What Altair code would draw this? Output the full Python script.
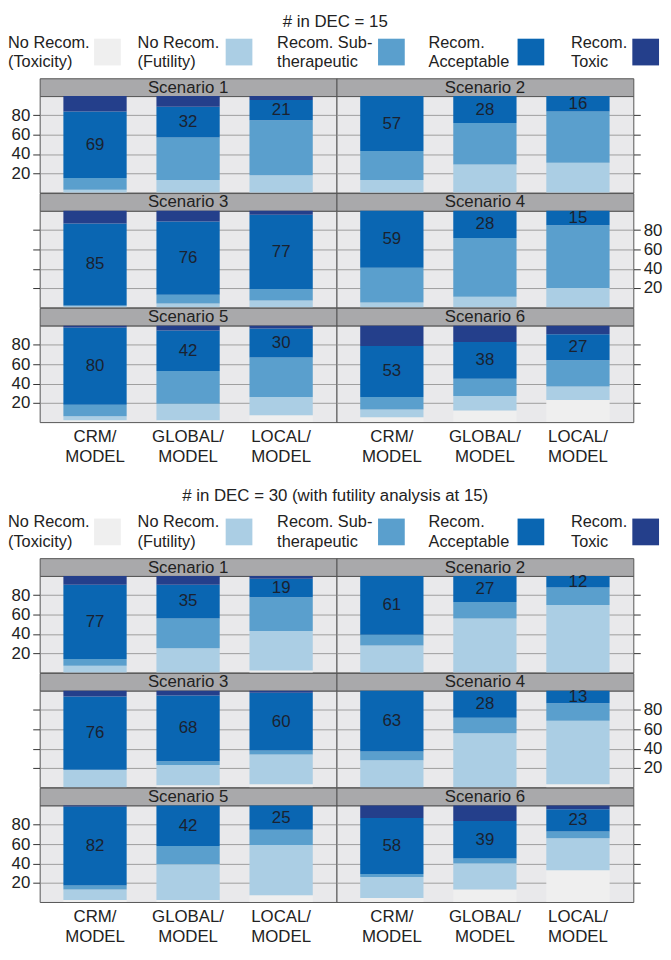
import altair as alt
import pandas as pd

FONT = "Liberation Sans"
TXT = "#222222"

# ---------------- data ----------------
methods = ["CRM/MODEL", "GLOBAL/MODEL", "LOCAL/MODEL"]
categories = ["No Recom. (Toxicity)", "No Recom. (Futility)", "Recom. Sub-therapeutic",
              "Recom. Acceptable", "Recom. Toxic"]
legend_line1 = ["No Recom.", "No Recom.", "Recom. Sub-", "Recom.", "Recom."]
legend_line2 = ["(Toxicity)", "(Futility)", "therapeutic", "Acceptable", "Toxic"]
scenarios = ["Scenario 1", "Scenario 2", "Scenario 3", "Scenario 4", "Scenario 5", "Scenario 6"]
section_titles = ["# in DEC = 15", "# in DEC = 30 (with futility analysis at 15)"]

# per scenario: one row per method, values in category order (% of trials)
dec15_s1 = [[0, 3, 12, 69, 16], [0, 13, 44, 32, 11], [0, 18, 57, 21, 4]]
dec15_s2 = [[0, 13, 30, 57, 0], [0, 29, 43, 28, 0], [0, 31, 53, 16, 0]]
dec15_s3 = [[0, 1, 1, 85, 13], [0, 4, 9, 76, 11], [0, 7, 12, 77, 4]]
dec15_s4 = [[0, 5, 36, 59, 0], [0, 11, 61, 28, 0], [0, 20, 65, 15, 0]]
dec15_s5 = [[2, 4, 12, 80, 2], [2, 17, 34, 42, 5], [7, 19, 41, 30, 3]]
dec15_s6 = [[5, 8, 13, 53, 21], [12, 15, 18, 38, 17], [23, 14, 27, 27, 9]]

dec30_s1 = [[0, 7, 7, 77, 9], [0, 25, 31, 35, 9], [2, 41, 35, 19, 3]]
dec30_s2 = [[0, 28, 11, 61, 0], [0, 56, 17, 27, 0], [0, 70, 18, 12, 0]]
dec30_s3 = [[0, 18, 0, 76, 6], [2, 21, 4, 68, 5], [3, 31, 4, 60, 2]]
dec30_s4 = [[0, 28, 9, 63, 0], [0, 56, 16, 28, 0], [3, 66, 18, 13, 0]]
dec30_s5 = [[2, 11, 4, 82, 1], [2, 37, 19, 42, 0], [7, 52, 16, 25, 0]]
dec30_s6 = [[4, 22, 3, 58, 13], [13, 27, 5, 39, 16], [33, 33, 7, 23, 4]]

sections = [
    [dec15_s1, dec15_s2, dec15_s3, dec15_s4, dec15_s5, dec15_s6],
    [dec30_s1, dec30_s2, dec30_s3, dec30_s4, dec30_s5, dec30_s6],
]

# ---------------- style ----------------
colors = ["#efefef", "#abcee4", "#5a9fcd", "#0a66b2", "#243f8b"]
PANEL_BG = "#e9e9eb"
STRIP_BG = "#a9a9ab"
BORDER = "#555555"
W, H, SH = 300, 97.5, 18
title_offsets = [3, 9]

# legend layout (width of each item, text x, square x)
legend_w = [99, 141, 153, 144, 92]
legend_tx = [-32, 0, 0, 0, 0]
legend_sx = [55, 89, 102, 90, 62]
SQ = 27


def frame(values):
    rows = []
    for m, vals in zip(methods, values):
        for k, (c, v) in enumerate(zip(categories, vals)):
            rows.append({"method": m, "category": c, "k": k, "value": v})
    return pd.DataFrame(rows)


def legend_item(i):
    d = pd.DataFrame({"l1": [legend_line1[i]], "l2": [legend_line2[i]]})
    base = alt.Chart(d)
    sq = base.mark_rect(color=colors[i]).encode(
        x=alt.value(legend_sx[i]), x2=alt.value(legend_sx[i] + SQ),
        y=alt.value(5), y2=alt.value(5 + SQ))
    t1 = base.mark_text(align="left", baseline="middle", font=FONT, fontSize=16.5, color=TXT).encode(
        x=alt.value(legend_tx[i]), y=alt.value(9), text="l1:N")
    t2 = base.mark_text(align="left", baseline="middle", font=FONT, fontSize=16.5, color=TXT).encode(
        x=alt.value(legend_tx[i]), y=alt.value(29), text="l2:N")
    return alt.layer(sq, t1, t2).properties(width=legend_w[i], height=36)


def strip_cell(name):
    d = pd.DataFrame({"s": [name]})
    return alt.Chart(d).mark_text(font=FONT, fontSize=17, color=TXT, baseline="middle").encode(
        x=alt.value(W / 2), y=alt.value(SH / 2 + 0.5), text="s:N"
    ).properties(width=W, height=SH,
                 view=alt.ViewBackground(fill=STRIP_BG, stroke=BORDER, strokeWidth=1))


def plot_cell(values, col, row):
    df = frame(values)
    bottom = row == 2
    if col == 0:
        show_labels = row != 1
        orient = "left"
    else:
        show_labels = row == 1
        orient = "right"
    yaxis = alt.Axis(title=None, orient=orient, values=[20, 40, 60, 80], labels=show_labels,
                     tickSize=7, tickColor="#333333", tickWidth=1, grid=True, gridColor="#9e9e9e",
                     gridWidth=1, domain=False, labelFontSize=17, labelFont=FONT,
                     labelColor=TXT, labelPadding=3)
    if bottom:
        xaxis = alt.Axis(title=None, orient="bottom", ticks=False, domain=False, labelAngle=0,
                         labelExpr="[split(datum.label, '/')[0] + '/', split(datum.label, '/')[1]]",
                         labelFontSize=17, labelFont=FONT, labelColor=TXT, labelLineHeight=20,
                         labelPadding=7, grid=False)
    else:
        xaxis = None
    xscale = alt.Scale(domain=methods, paddingInner=0.32, paddingOuter=0.255)
    yscale = alt.Scale(domain=[0, 100], nice=False, zero=True)
    xenc = alt.X("method:N", sort=methods, scale=xscale, axis=xaxis)
    stacked = alt.Chart(df).transform_stack(
        stack="value", as_=["v0", "v1"], groupby=["method"],
        sort=[alt.SortField("k", order="ascending")])
    bars = stacked.mark_bar().encode(
        x=xenc,
        y=alt.Y("v0:Q", scale=yscale, axis=yaxis),
        y2="v1:Q",
        color=alt.Color("category:N", scale=alt.Scale(domain=categories, range=colors), legend=None),
    )
    labels = stacked.transform_filter(alt.datum.k == 3).transform_calculate(
        mid="(datum.v0 + datum.v1) / 2"
    ).mark_text(font=FONT, fontSize=17, color="#1a2230", baseline="middle").encode(
        x=xenc,
        y=alt.Y("mid:Q", scale=yscale, axis=yaxis),
        text=alt.Text("value:Q", format="d"),
    )
    return alt.layer(bars, labels).properties(
        width=W, height=H,
        view=alt.ViewBackground(fill=PANEL_BG, stroke=BORDER, strokeWidth=1))


def section(idx):
    data = sections[idx]
    cells = []
    for r in range(3):
        cells.append(strip_cell(scenarios[2 * r]))
        cells.append(strip_cell(scenarios[2 * r + 1]))
        cells.append(plot_cell(data[2 * r], 0, r))
        cells.append(plot_cell(data[2 * r + 1], 1, r))
    grid = alt.concat(*cells, columns=2, spacing=0, bounds="flush", align="each")
    legend = alt.hconcat(*[legend_item(i) for i in range(5)], spacing=0)
    return alt.vconcat(legend, grid, spacing=6,
                       title=alt.Title(section_titles[idx], fontSize=17, font=FONT,
                                       fontWeight="normal", color=TXT, anchor="middle",
                                       offset=title_offsets[idx]))


chart = alt.vconcat(section(0), section(1), spacing=22).properties(
    padding=0, background="white"
).configure_view(strokeWidth=0).configure_concat(spacing=0)

chart.save("out.html", embed_options={"renderer": "svg", "actions": False})
